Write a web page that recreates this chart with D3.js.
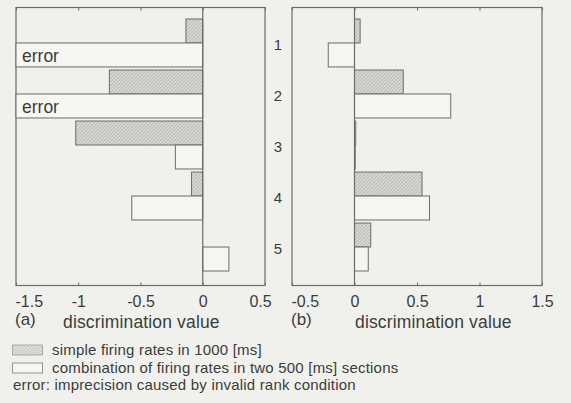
<!DOCTYPE html>
<html>
<head>
<meta charset="utf-8">
<script src="https://cdn.jsdelivr.net/npm/d3@7"></script>
<style>
  html, body { margin: 0; padding: 0; background: #f0f1ec; }
  svg { display: block; }
  text { font-family: "Liberation Sans", Arial, Helvetica, sans-serif; fill: #3c3c3c; }
</style>
</head>
<body>
<svg id="chart" width="571" height="403"></svg>
<script>
// Discriminant values per condition, two feature sets, two panels
const categories = ["1", "2", "3", "4", "5"];
const seriesNames = ["simple", "combo"];

// panel (a)
const simpleA = [-0.135, -0.75, -1.02, -0.09, 0];
const comboA  = [null, null, -0.22, -0.57, 0.21];   // null = error
// panel (b)
const simpleB = [0.045, 0.39, 0.01, 0.54, 0.13];
const comboB  = [-0.21, 0.77, 0.006, 0.60, 0.11];

const ticksA = [-1.5, -1, -0.5, 0, 0.5];
const ticksB = [-0.5, 0, 0.5, 1, 1.5];

const legendLabels = [
  "simple firing rates in 1000 [ms]",
  "combination of firing rates in two 500 [ms] sections"
];
const errorNote = "error: imprecision caused by invalid rank condition";
const errorLabel = "error";

const ink = "#6b6b6b";
const svg = d3.select("#chart");

// hatch used for the "simple" series
const defs = svg.append("defs");
const pat = defs.append("pattern")
  .attr("id", "hatch").attr("patternUnits", "userSpaceOnUse")
  .attr("width", 3.5).attr("height", 3.5);
pat.append("rect").attr("width", 3.5).attr("height", 3.5).attr("fill", "#d9dad3");
pat.append("path")
  .attr("d", "M-1,1 l2,-2 M0,3.5 l3.5,-3.5 M2.5,4.5 l2,-2")
  .attr("stroke", "#a2a39d").attr("stroke-width", 0.8);

const frameTop = 7.5, frameBottom = 285.5;

const y = d3.scaleBand().domain(categories).range([19, 271]).paddingInner(0.06);
const ySub = d3.scaleBand().domain(seriesNames).range([0, y.bandwidth()]);

// plain hyphen-minus, as printed on the axes
const tickFmt = d => String(d);

function panel(opts) {
  const x = d3.scaleLinear().domain(opts.domain).range(opts.range);
  const g = svg.append("g");

  // frame
  g.append("rect")
    .attr("x", x.range()[0]).attr("y", frameTop)
    .attr("width", x.range()[1] - x.range()[0]).attr("height", frameBottom - frameTop)
    .attr("fill", "none").attr("stroke", ink).attr("stroke-width", 1.2);

  // bars
  const rows = categories.map((c, i) => ({ c, simple: opts.simple[i], combo: opts.combo[i] }));
  seriesNames.forEach(s => {
    rows.forEach(r => {
      const v = r[s];
      const yy = y(r.c) + ySub(s);
      const h = ySub.bandwidth();
      if (v === null) {
        // invalid result: outlined band across the negative side
        g.append("rect")
          .attr("x", x(opts.domain[0])).attr("y", yy)
          .attr("width", x(0) - x(opts.domain[0])).attr("height", h)
          .attr("fill", "#f6f7f3").attr("stroke", ink).attr("stroke-width", 1);
        g.append("text")
          .attr("x", x(opts.domain[0]) + 6).attr("y", yy + h / 2 + 2)
          .attr("dominant-baseline", "middle")
          .attr("font-size", 17.5).text(errorLabel);
        return;
      }
      if (v === 0) return;
      g.append("rect")
        .attr("x", x(Math.min(0, v))).attr("y", yy)
        .attr("width", Math.abs(x(v) - x(0))).attr("height", h)
        .attr("fill", s === "simple" ? "url(#hatch)" : "#f5f6f2")
        .attr("stroke", ink).attr("stroke-width", 1);
    });
  });

  // zero line
  g.append("line")
    .attr("x1", x(0)).attr("x2", x(0)).attr("y1", frameTop).attr("y2", frameBottom)
    .attr("stroke", ink).attr("stroke-width", 1.2);

  // inward ticks, top and bottom
  const axB = g.append("g").attr("transform", `translate(0,${frameBottom})`)
    .call(d3.axisBottom(x).tickValues(opts.ticks).tickSizeInner(-3).tickSizeOuter(0)
      .tickPadding(10).tickFormat(tickFmt));
  axB.select(".domain").remove();
  axB.selectAll(".tick line").attr("stroke", ink);
  axB.selectAll(".tick text")
    .attr("font-size", 16).attr("fill", "#3c3c3c")
    .attr("font-family", "Liberation Sans, Arial, sans-serif")
    .attr("text-anchor", (d, i) => i === 0 ? "start" : "middle")
    .attr("dx", (d, i) => i === 0 ? -1 : (i === opts.ticks.length - 1 ? opts.lastShift : 0));

  const axT = g.append("g").attr("transform", `translate(0,${frameTop})`)
    .call(d3.axisTop(x).tickValues(opts.ticks).tickSizeInner(-3).tickSizeOuter(0).tickFormat(""));
  axT.select(".domain").remove();
  axT.selectAll(".tick line").attr("stroke", ink);

  // panel caption
  g.append("text").attr("x", x.range()[0] - 1).attr("y", 325)
    .attr("font-size", 17).text(opts.tag);
  g.append("text").attr("x", opts.titleX).attr("y", 327.5)
    .attr("font-size", 17.5).attr("letter-spacing", 0.15).text("discrimination value");
}

panel({ domain: [-1.5, 0.5], range: [16, 265], simple: simpleA, combo: comboA,
        ticks: ticksA, tag: "(a)", titleX: 63, lastShift: -5 });
panel({ domain: [-0.5, 1.5], range: [292, 542], simple: simpleB, combo: comboB,
        ticks: ticksB, tag: "(b)", titleX: 355, lastShift: 0 });

// category labels between the panels
svg.append("g").selectAll("text").data(categories).join("text")
  .attr("x", 278).attr("y", d => y(d) + y.bandwidth() / 2 + 3)
  .attr("text-anchor", "middle").attr("dominant-baseline", "middle")
  .attr("font-size", 15).text(d => d);

// legend
const leg = svg.append("g");
legendLabels.forEach((t, i) => {
  const yy = 345 + i * 18;
  leg.append("rect").attr("x", 12.5).attr("y", yy).attr("width", 30).attr("height", 10)
    .attr("fill", i === 0 ? "url(#hatch)" : "#f5f6f2")
    .attr("stroke", "#8a8a8a").attr("stroke-width", 0.9)
    .attr("opacity", i === 0 ? 0.75 : 1);
  leg.append("text").attr("x", 52).attr("y", yy + 9.5).attr("font-size", 15)
    .attr("letter-spacing", 0.2).text(t);
});
leg.append("text").attr("x", 13).attr("y", 389.5).attr("font-size", 15)
  .attr("letter-spacing", 0.2).text(errorNote);
</script>
</body>
</html>
